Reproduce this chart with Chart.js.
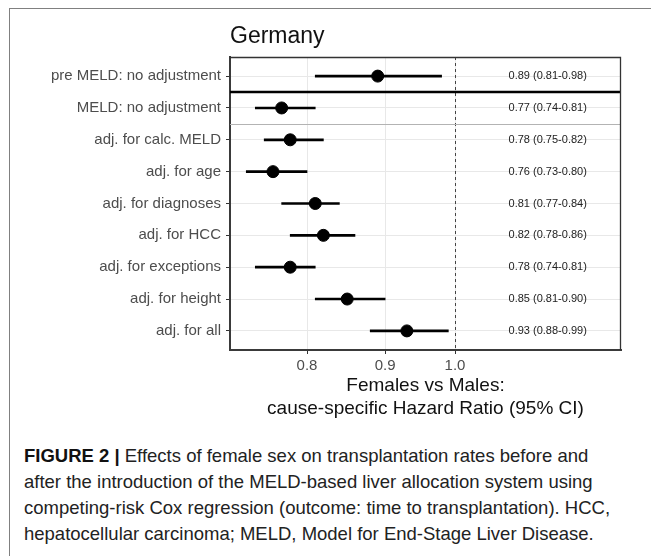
<!DOCTYPE html>
<html>
<head>
<meta charset="utf-8">
<script src="https://cdn.jsdelivr.net/npm/chart.js@4"></script>
<style>
  body { margin: 0; background: #fff; overflow: hidden; font-family: "Liberation Sans", Arial, sans-serif; }
  #frame { position: absolute; left: 9px; top: 8px; width: 700px; height: 600px;
           border-left: 1px solid #808080; border-top: 1px solid #808080; }
  #wrap { position: absolute; left: 0; top: 0; width: 651px; height: 430px; }
  #caption { position: absolute; left: 24px; top: 443px; width: 640px; white-space: nowrap;
             font-size: 18.5px; line-height: 26px; color: #222; }
  #caption b { color: #111; }
</style>
</head>
<body>
<div id="frame"></div>
<div id="wrap"><canvas id="forest"></canvas></div>
<div id="caption"><b>FIGURE 2 |</b> Effects of female sex on transplantation rates before and<br>
after the introduction of the MELD-based liver allocation system using<br>
competing-risk Cox regression (outcome: time to transplantation). HCC,<br>
hepatocellular carcinoma; MELD, Model for End-Stage Liver Disease.</div>
<script>
// rows, top to bottom
var rowLabels = ['pre MELD: no adjustment', 'MELD: no adjustment', 'adj. for calc. MELD',
    'adj. for age', 'adj. for diagnoses', 'adj. for HCC', 'adj. for exceptions',
    'adj. for height', 'adj. for all'];
var hr    = [0.89, 0.77, 0.78, 0.76, 0.81, 0.82, 0.78, 0.85, 0.93];
var lower = [0.81, 0.74, 0.75, 0.73, 0.77, 0.78, 0.74, 0.81, 0.88];
var upper = [0.98, 0.81, 0.82, 0.80, 0.84, 0.86, 0.81, 0.90, 0.99];
var xTicks = [0.8, 0.9, 1.0];
var textX = 1.15;   // where the "HR (CI)" column sits on the x scale

var ciData = [], pointData = [];
for (var i = 0; i < rowLabels.length; i++) {
    ciData.push({ x: [lower[i], upper[i]], y: i + 1 });
    pointData.push({ x: hr[i], y: i + 1 });
}

var extras = {
    id: 'extras',
    beforeDatasetsDraw: function (chart) {
        var ctx = chart.ctx, xs = chart.scales.x, ys = chart.scales.y, a = chart.chartArea;
        ctx.save();
        // reference line at HR = 1
        var x1 = Math.round(xs.getPixelForValue(1)) + 0.5;
        ctx.strokeStyle = '#444';
        ctx.lineWidth = 1;
        ctx.setLineDash([3, 3]);
        ctx.beginPath(); ctx.moveTo(x1, a.top); ctx.lineTo(x1, a.bottom); ctx.stroke();
        ctx.setLineDash([]);
        // thin separator below MELD: no adjustment
        var y2 = Math.round(ys.getPixelForValue(2.5)) + 0.5;
        ctx.strokeStyle = '#b3b3b3';
        ctx.beginPath(); ctx.moveTo(a.left, y2); ctx.lineTo(a.right, y2); ctx.stroke();
        // estimate text column
        ctx.fillStyle = '#222';
        ctx.font = '11px "Liberation Sans", Arial, sans-serif';
        ctx.textAlign = 'center';
        ctx.textBaseline = 'middle';
        var tx = xs.getPixelForValue(textX);
        for (var k = 0; k < hr.length; k++) {
            var s = hr[k].toFixed(2) + ' (' + lower[k].toFixed(2) + '-' + upper[k].toFixed(2) + ')';
            ctx.fillText(s, tx, ys.getPixelForValue(k + 1));
        }
        ctx.restore();
    },
    afterDraw: function (chart) {
        var ctx = chart.ctx, ys = chart.scales.y, a = chart.chartArea;
        ctx.save();
        // thick line between pre MELD and MELD era
        var y1 = ys.getPixelForValue(1.5);
        ctx.strokeStyle = '#000';
        ctx.lineWidth = 2.5;
        ctx.beginPath(); ctx.moveTo(a.left, y1); ctx.lineTo(a.right, y1); ctx.stroke();
        // panel border top / right
        ctx.strokeStyle = '#333';
        ctx.lineWidth = 1.3;
        ctx.beginPath();
        ctx.moveTo(a.left, a.top + 0.5); ctx.lineTo(a.right - 0.5, a.top + 0.5);
        ctx.lineTo(a.right - 0.5, a.bottom);
        ctx.stroke();
        // panel title
        ctx.fillStyle = '#111';
        ctx.font = '23px "Liberation Sans", Arial, sans-serif';
        ctx.textAlign = 'left';
        ctx.textBaseline = 'alphabetic';
        ctx.fillText('Germany', a.left, a.top - 14);
        ctx.restore();
    }
};

var chart = new Chart(document.getElementById('forest'), {
    type: 'bar',
    data: {
        datasets: [{
            type: 'bar',
            indexAxis: 'y',
            data: ciData,
            backgroundColor: '#000',
            borderWidth: 0,
            barThickness: 2
        }, {
            type: 'scatter',
            data: pointData,
            backgroundColor: '#000',
            borderColor: '#000',
            pointRadius: 6,
            pointHoverRadius: 6
        }]
    },
    options: {
        responsive: true,
        maintainAspectRatio: false,
        animation: false,
        layout: { padding: { top: 57, right: 30, left: 0, bottom: 0 } },
        plugins: { legend: { display: false }, tooltip: { enabled: false } },
        scales: {
            x: {
                type: 'logarithmic',
                position: 'bottom',
                offset: false,
                min: 0.7123,
                max: 1.2844,
                afterBuildTicks: function (scale) {
                    scale.ticks = xTicks.map(function (v) { return { value: v }; });
                },
                afterFit: function (scale) { scale.height = 80; },
                ticks: {
                    callback: function (v) { return v.toFixed(1); },
                    font: { family: '"Liberation Sans", Arial, sans-serif', size: 15 },
                    color: '#4d4d4d',
                    padding: 3,
                    maxRotation: 0
                },
                grid: { offset: false, color: '#e8e8e8', tickColor: '#333', tickLength: 4, lineWidth: 1 },
                border: { display: true, color: '#3a3a3a', width: 2 },
                title: {
                    display: true,
                    text: ['Females vs Males:', 'cause-specific Hazard Ratio (95% CI)'],
                    font: { family: '"Liberation Sans", Arial, sans-serif', size: 19, lineHeight: 1.25 },
                    color: '#111',
                    padding: { top: 2, bottom: 9 }
                }
            },
            y: {
                type: 'linear',
                reverse: true,
                offset: false,
                min: 0.4,
                max: 9.6,
                afterBuildTicks: function (scale) {
                    scale.ticks = rowLabels.map(function (l, i) { return { value: i + 1 }; });
                },
                afterFit: function (scale) { scale.width = 230; },
                ticks: {
                    callback: function (v) { return rowLabels[v - 1]; },
                    font: { family: '"Liberation Sans", Arial, sans-serif', size: 15 },
                    color: '#4d4d4d',
                    padding: 5
                },
                grid: { offset: false, color: '#e8e8e8', tickColor: '#333', tickLength: 4, lineWidth: 1 },
                border: { display: true, color: '#3a3a3a', width: 2 }
            }
        }
    },
    plugins: [extras]
});
</script>
</body>
</html>
